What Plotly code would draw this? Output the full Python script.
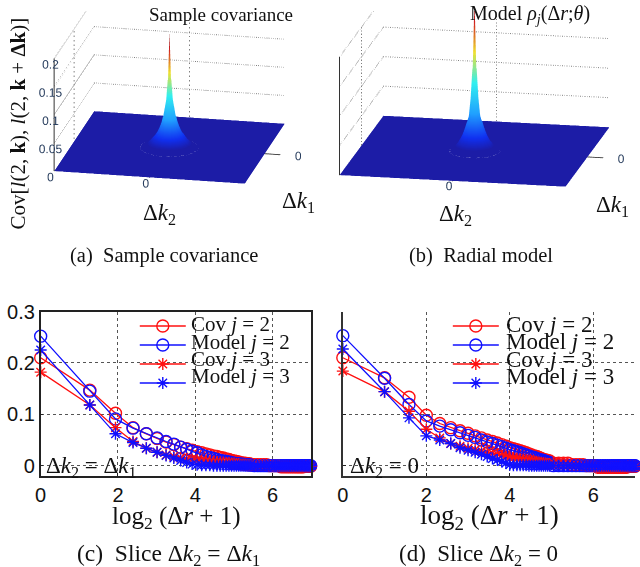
import numpy as np
import plotly.graph_objects as go

SERIF = "Liberation Serif"
SANS = "Liberation Sans"
RED = "#ff1010"
BLUE = "#1010ff"

# radial height of the two surfaces, one value per unit of distance from the centre
SURF_COV = [.205, .12, .085, .07, .055, .045, .038, .032, .027, .023, .019, .016, .013,
            .01, .008, .006, .004, .002, .001]
SURF_MODEL = [.258, .14, .09, .06, .05, .04, .032, .025, .02, .015, .011, .007, .004, .002]
K_GRID = list(range(-64, 65))
Z_TICKS = [0, .05, .1, .15, .2]
Z_LABELS = ["0", "0.05", "0.1", "0.15", "0.2"]

# slice samples: n is the lag index along the slice
N_DIAG = list(range(0, 31)) + list(range(32, 90, 2)) + [89]
N_AXIS = list(range(0, 31)) + list(range(32, 128, 3)) + [127]
SQRT2 = 1.4142

C_COV2 = [.21, .147, .102, .074, .062, .053, .046, .041, .036, .033, .030, .027, .025, .023, .021, .019,
          .018, .016, .015, .013, .012, .010, .009, .008, .007, .006, .005, .005, .004, .004, .003]
C_MOD2 = [.252, .145, .091, .073, .062, .054, .047, .042, .036, .032, .028, .025, .021, .018, .016, .014,
          .012, .010, .009, .008, .007, .006, .005, .004, .004, .003, .003, .002, .002, .002, .001]
C_COV3 = [.182, .118, .074, .047, .034, .026, .021, .018, .015, .013, .012, .011, .010, .009, .008, .007,
          .007, .006, .006, .005, .005, .004, .004, .003, .003, .002, .002, .002, .001, .001, .001]
C_MOD3 = [.225, .118, .062, .045, .034, .026, .020, .015, .010, .006, .003, .002, .001, .001, .001, 0,
          0, 0, 0, 0, 0, 0, 0, 0, 0, 0, 0, 0, 0, 0, 0]
C_COV_TAIL = [.002] * 5 + [0] * 5 + [-.002] * 14 + [-.001] * 6
C_MOD_TAIL = [0] * 30

D_COV2 = [.21, .171, .133, .098, .082, .074, .068, .063, .058, .054, .050, .047, .044, .041, .038, .035,
          .033, .031, .029, .027, .025, .023, .021, .019, .018, .016, .014, .012, .011, .010, .009]
D_MOD2 = [.253, .170, .119, .087, .077, .070, .064, .059, .055, .050, .046, .043, .040, .037, .034, .031,
          .029, .027, .025, .023, .021, .019, .017, .016, .014, .012, .011, .010, .008, .007, .006]
D_COV3 = [.184, .144, .106, .071, .054, .043, .038, .034, .031, .028, .026, .024, .022, .020, .018, .016,
          .015, .014, .013, .012, .011, .010, .009, .008, .007, .006, .005, .005, .004, .003, .003]
D_MOD3 = [.227, .144, .093, .058, .050, .043, .035, .030, .026, .022, .018, .014, .011, .008, .005, .002,
          .001, .001, .001, .001, .001, 0, 0, 0, 0, 0, 0, 0, 0, 0, 0]
D_COV_TAIL = [.005] * 4 + [.002] * 4 + [0] * 4 + [-.003] * 15 + [-.001] * 6
D_MOD_TAIL = [0] * 33

PX_W, PX_H = 640, 567


def fx(p):
    return p / PX_W


def fy(p):
    return 1 - p / PX_H


fig = go.Figure()

COLORS = [[0, "#1c1ca6"], [.03, "#1c1ca6"], [.1, "#1030f0"], [.25, "#20a0ff"], [.45, "#30f0f0"],
          [.65, "#f0e030"], [.85, "#d02020"], [1, "#802020"]]


def add_surface(profile, scene):
    kx, ky = np.meshgrid(K_GRID, K_GRID)
    rad = np.rint(np.hypot(kx, ky)).astype(int)
    table = np.array(profile + [0.0] * (rad.max() + 1 - len(profile)))
    z = table[rad]
    nohl = dict(highlight=False)
    fig.add_trace(go.Surface(x=K_GRID, y=K_GRID, z=z, scene=scene, colorscale=COLORS,
                             cmin=0, cmax=max(profile), showscale=False,
                             contours=dict(x=nohl, y=nohl, z=nohl),
                             lighting=dict(ambient=1, diffuse=0, specular=0, fresnel=0)))
    # dotted wall grid
    wall = dict(mode="lines", scene=scene, showlegend=False, hoverinfo="skip",
                line=dict(color="#808080", width=2, dash="dot"))
    for t in Z_TICKS[1:]:
        fig.add_trace(go.Scatter3d(x=[-64, -64, 64], y=[-64, 64, 64], z=[t, t, t], **wall))
    fig.add_trace(go.Scatter3d(x=[0, 0], y=[64, 64], z=[0, .2], **wall))
    fig.add_trace(go.Scatter3d(x=[-64, -64], y=[0, 0], z=[0, .2], **wall))
    fig.add_trace(go.Scatter3d(x=[-64, -64], y=[-64, -64], z=[0, .2], mode="lines", scene=scene,
                               showlegend=False, hoverinfo="skip", line=dict(color="#333333", width=2)))


add_surface(SURF_COV, "scene")
add_surface(SURF_MODEL, "scene2")


def add_slice(n, vals, color, symbol, name, xa, ya, legend):
    x = np.log2(1 + np.array(n, dtype=float))
    size = 12 if symbol == "circle-open" else 10
    fig.add_trace(go.Scatter(x=x, y=vals, xaxis=xa, yaxis=ya, name=name, legend=legend, mode="lines+markers",
                             cliponaxis=False, line=dict(color=color, width=1.3),
                             marker=dict(symbol=symbol, size=size, color=color, line=dict(color=color, width=1.4))))


n_d = [v * SQRT2 for v in N_DIAG]
add_slice(n_d, C_COV2 + C_COV_TAIL, RED, "circle-open", "Cov j = 2", "x", "y", "legend")
add_slice(n_d, C_MOD2 + C_MOD_TAIL, BLUE, "circle-open", "Model j = 2", "x", "y", "legend")
add_slice(n_d, C_COV3 + C_COV_TAIL, RED, "asterisk-open", "Cov j = 3", "x", "y", "legend")
add_slice(n_d, C_MOD3 + C_MOD_TAIL, BLUE, "asterisk-open", "Model j = 3", "x", "y", "legend")

add_slice(N_AXIS, D_COV2 + D_COV_TAIL, RED, "circle-open", "Cov j = 2", "x2", "y2", "legend2")
add_slice(N_AXIS, D_MOD2 + D_MOD_TAIL, BLUE, "circle-open", "Model j = 2", "x2", "y2", "legend2")
add_slice(N_AXIS, D_COV3 + D_COV_TAIL, RED, "asterisk-open", "Cov j = 3", "x2", "y2", "legend2")
add_slice(N_AXIS, D_MOD3 + D_MOD_TAIL, BLUE, "asterisk-open", "Model j = 3", "x2", "y2", "legend2")


def scene_cfg(left, right, top, bottom, ratio, center, eye, labels):
    hidden = dict(showgrid=False, zeroline=False, showbackground=False, showline=False, showspikes=False,
                  title=dict(text=""), tickangle=0, tickwidth=2)
    return dict(domain=dict(x=[fx(left), fx(right)], y=[fy(bottom), fy(top)]),
                xaxis=dict(range=[-64, 64], tickvals=[0], ticktext=["0"], ticks="outside", ticklen=16,
                           tickcolor="#333333", tickfont=dict(family=SANS, size=12), **hidden),
                yaxis=dict(range=[-64, 64], tickvals=[0], ticktext=["0"], ticks="outside", ticklen=1,
                           tickcolor="#333333", tickfont=dict(family=SANS, size=12), **hidden),
                zaxis=dict(range=[0, .26], tickvals=Z_TICKS, ticktext=labels, ticks="outside", ticklen=5,
                           tickcolor="#333333", tickfont=dict(family=SANS, size=12), **hidden),
                aspectmode="manual", aspectratio=dict(x=ratio[0], y=ratio[0], z=ratio[1]),
                camera=dict(projection=dict(type="orthographic"), up=dict(x=0, y=0, z=1),
                            center=center, eye=eye))


slice_axis = dict(range=[0, 7], dtick=2, griddash="dot", gridcolor="#555555", gridwidth=1, zeroline=False,
                  ticks="inside", ticklen=3, tickcolor="#222222",
                  tickfont=dict(family=SANS, size=20, color="#111111"))
val_axis = dict(range=[-.02, .3], griddash="dot", gridcolor="#555555", gridwidth=1, zeroline=False,
                ticks="inside", ticklen=3, tickcolor="#222222",
                tickvals=[0, .1, .2, .3], tickfont=dict(family=SANS, size=20, color="#111111"))
legend_base = dict(bgcolor="rgba(0,0,0,0)", borderwidth=0, itemwidth=46, xanchor="left", yanchor="top",
                   font=dict(family=SERIF, size=11, color="rgba(0,0,0,0)"), itemclick=False, itemdoubleclick=False)

fig.update_layout(
    width=PX_W, height=PX_H, autosize=False, margin=dict(l=0, r=0, t=0, b=0),
    paper_bgcolor="white", plot_bgcolor="white", showlegend=True,
    scene=scene_cfg(15, 315, 0, 250, (1.59, 1.26), dict(x=0, y=0, z=-.51), dict(x=.26, y=-1.24, z=-.09), Z_LABELS),
    scene2=scene_cfg(318, 628, 0, 250, (1.88, 1.3), dict(x=0, y=0, z=-.5), dict(x=.21, y=-1.08, z=-.2), [""] * 5),
    xaxis=dict(domain=[fx(35), fx(308)], anchor="y", showline=True, linewidth=1.5, linecolor="#222222",
               mirror=True, **slice_axis),
    yaxis=dict(domain=[fy(475), fy(307)], anchor="x", showline=True, linewidth=1.5, linecolor="#222222",
               mirror=True, **val_axis),
    xaxis2=dict(domain=[fx(340), fx(635)], anchor="y2", showline=True, linewidth=2, linecolor="#333333", **slice_axis),
    yaxis2=dict(domain=[fy(475), fy(307)], anchor="x2", showline=True, linewidth=2, linecolor="#333333",
                showticklabels=False, **val_axis),
    legend=dict(x=fx(130), y=fy(307), **legend_base),
    legend2=dict(x=fx(446), y=fy(307), **legend_base),
)

TEXTS = [
    ("Sample covariance", 217, 4, 19, 0),
    ("Model <i>ρ<sub>j</sub></i>(Δ<i>r</i>;<i>θ</i>)", 529, 4, 20, 0),
    ("Cov[<i>l</i>(2, <b>k</b>), <i>l</i>(2, <b>k</b> + <b>Δk</b>)]", 12, 115, 21, -90),
    ("Δ<i>k</i><sub>2</sub>", 155, 207, 23, 0),
    ("Δ<i>k</i><sub>1</sub>", 295, 195, 23, 0),
    ("Δ<i>k</i><sub>2</sub>", 454, 208, 23, 0),
    ("Δ<i>k</i><sub>1</sub>", 612, 199, 23, 0),
    ("(a)  Sample covariance", 159, 250, 20.5, 0),
    ("(b)  Radial model", 479, 250, 20.5, 0),
    ("log<sub>2</sub> (Δ<i>r</i> + 1)", 172, 517, 25, 0),
    ("log<sub>2</sub> (Δ<i>r</i> + 1)", 488, 517, 27, 0),
    ("(c)  Slice Δ<i>k</i><sub>2</sub> = Δ<i>k</i><sub>1</sub>", 164, 556, 23.5, 0),
    ("(d)  Slice Δ<i>k</i><sub>2</sub> = 0", 477, 556, 23, 0),
    ("Δ<i>k</i><sub>2</sub> = Δ<i>k</i><sub>1</sub>", 86, 466, 23, 0),
    ("Δ<i>k</i><sub>2</sub> = 0", 382, 466, 23, 0),
]
for text, px, py, size, angle in TEXTS:
    fig.add_annotation(text=text, x=fx(px), y=fy(py), xref="paper", yref="paper", showarrow=False,
                       xanchor="center", yanchor="middle", textangle=angle,
                       font=dict(family=SERIF, size=size, color="#111111"))

LEG_ROWS = [("Cov <i>j</i> = 2", 320), ("Model <i>j</i> = 2", 338), ("Cov <i>j</i> = 3", 356), ("Model <i>j</i> = 3", 373)]
for left, size in [(185, 21), (503, 23)]:
    for text, py in LEG_ROWS:
        fig.add_annotation(text=text, x=fx(left), y=fy(py), xref="paper", yref="paper", showarrow=False,
                           xanchor="left", yanchor="middle", font=dict(family=SERIF, size=size, color="#111111"))

fig.write_html("out.html", config=dict(displayModeBar=False), post_script="document.body.style.margin='0';")
